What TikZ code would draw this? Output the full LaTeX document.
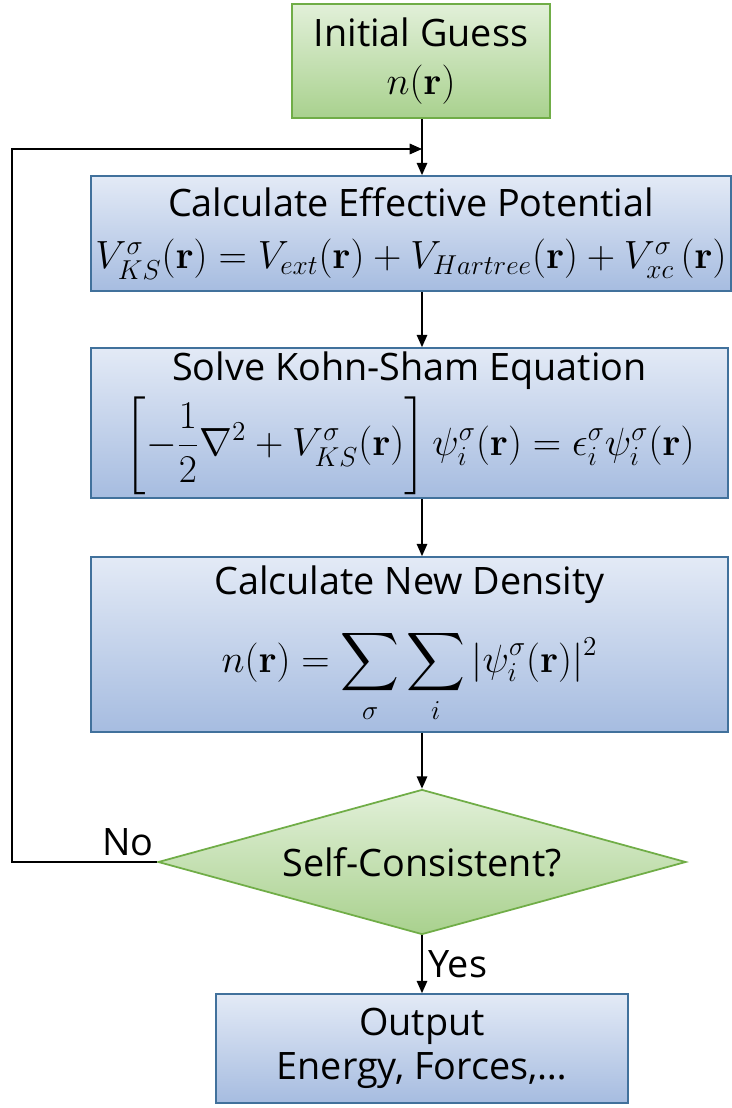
\documentclass[tikz,border=0pt]{standalone}
\usepackage{amsmath, amssymb}
\usepackage[no-math]{fontspec}
\setmainfont{Open Sans}
\usepackage{tikz}
\usetikzlibrary{arrows.meta, shapes.geometric}

\definecolor{greentop}{HTML}{E2F0D9}
\definecolor{greenbot}{HTML}{A9D18E}
\definecolor{greenline}{HTML}{70AD47}
\definecolor{bluetop}{HTML}{E3EAF6}
\definecolor{bluebot}{HTML}{A6BCE0}
\definecolor{blueline}{HTML}{41719C}

\newcommand{\bigmath}[1]{\scalebox{1.08}{#1}}

\tikzset{
  greenbox/.style={draw=greenline, line width=1pt, top color=greentop, bottom color=greenbot, align=center, inner sep=0pt},
  bluebox/.style={draw=blueline, line width=1pt, top color=bluetop, bottom color=bluebot, align=center, inner sep=0pt},
  flow/.style={-{Triangle[length=7pt, width=6pt]}, line width=0.8pt},
  txt/.style={font=\fontsize{21.5}{27}\selectfont}
}

\begin{document}
\begin{tikzpicture}[x=0.02cm, y=-0.02cm]
  \useasboundingbox (0,0) rectangle (732,1108);

  % vertical spine of the flow
  \coordinate (spine) at (422,0);

  % boxes
  \node[greenbox, txt, minimum width=5.16cm, minimum height=2.28cm] (guess) at (421,61)
    {Initial Guess\\[0pt] \bigmath{$n(\mathbf{r})$}};
  \node[bluebox, txt, minimum width=12.8cm, minimum height=2.3cm] (veff) at (411,233.5)
    {Calculate Effective Potential\\[3pt]
     \bigmath{$V^{\sigma}_{KS}(\mathbf{r}) = V_{ext}(\mathbf{r}) + V_{Hartree}(\mathbf{r}) + V^{\sigma}_{xc}\,(\mathbf{r})$}};
  \node[bluebox, txt, minimum width=12.74cm, minimum height=3.0cm] (ks) at (409.5,423)
    {Solve Kohn-Sham Equation\\[3pt]
     \bigmath{$\left[-\dfrac{1}{2}\nabla^2 + V^{\sigma}_{KS}(\mathbf{r})\right]\psi^{\sigma}_i(\mathbf{r}) = \epsilon^{\sigma}_i\psi^{\sigma}_i(\mathbf{r})$}};
  \node[bluebox, txt, minimum width=12.74cm, minimum height=3.5cm] (dens) at (409.5,644.5)
    {Calculate New Density\\[14pt]
     \bigmath{$\displaystyle n(\mathbf{r}) = \sum_{\sigma}\sum_{i}|\psi^{\sigma}_i(\mathbf{r})|^2$}};
  \node[diamond, aspect=3.6, greenbox, txt, minimum width=10.56cm, minimum height=2.9cm] (scf) at (422,862)
    {Self-Consistent?};
  \node[bluebox, txt, minimum width=8.24cm, minimum height=2.18cm] (out) at (422,1048.5)
    {Output\\[-2pt] Energy, Forces,\dots};

  % connectors
  \draw[flow] (guess.south -| spine) -- (veff.north -| spine);
  \draw[flow] (veff.south -| spine) -- (ks.north -| spine);
  \draw[flow] (ks.south -| spine) -- (dens.north -| spine);
  \draw[flow] (dens.south -| spine) -- (scf.north);
  \draw[flow] (scf.south) -- node[right, txt, pos=0.5] {Yes} (out.north);
  \coordinate (back) at (12,149);
  \draw[flow] (scf.west) -- node[above, txt, pos=0.2] {No} (scf.west -| back) -- (back) -- (back -| spine);
\end{tikzpicture}
\end{document}
